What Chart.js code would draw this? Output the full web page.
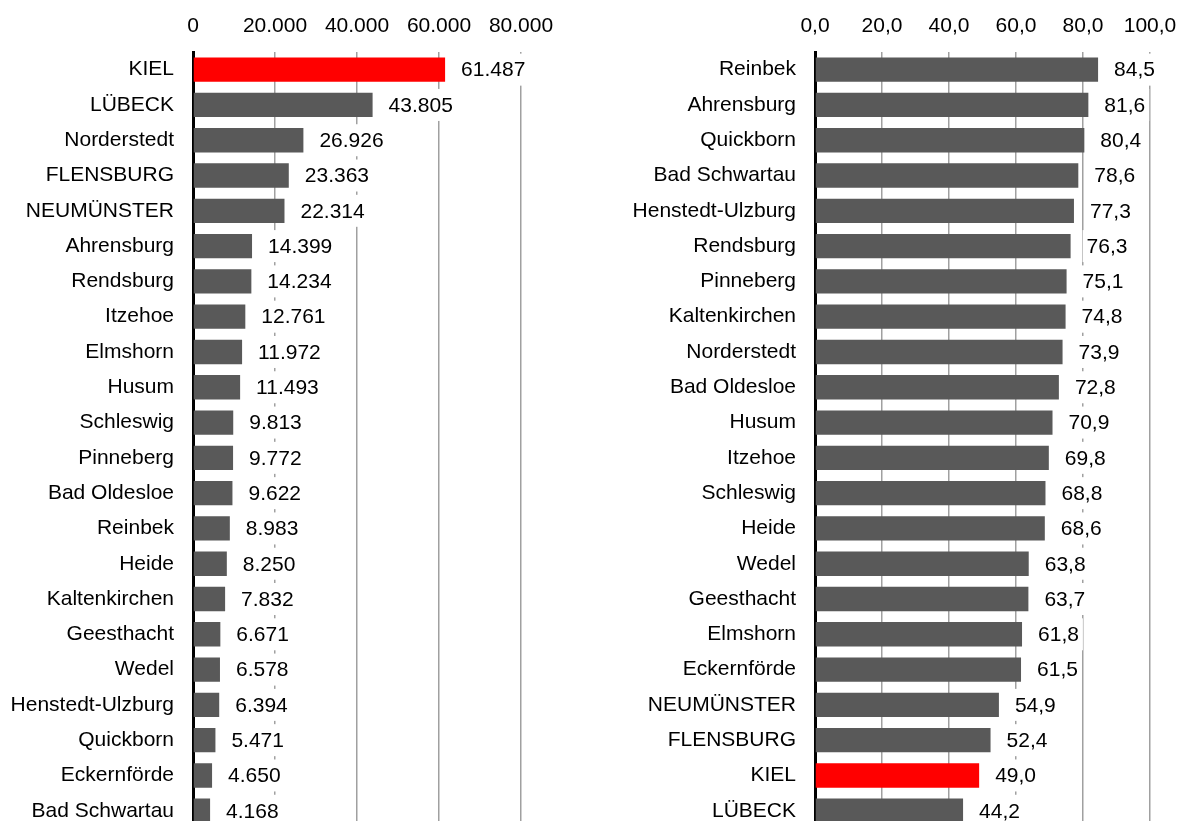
<!DOCTYPE html>
<html>
<head>
<meta charset="utf-8">
<script src="https://cdn.jsdelivr.net/npm/chart.js@4"></script>
<style>
  html, body { margin: 0; padding: 0; background: #fff; overflow: hidden; }
  canvas { position: absolute; top: 0; }
  #leftChart { left: 0; }
  #rightChart { left: 600px; }
</style>
</head>
<body>
<canvas id="leftChart" width="600" height="860"></canvas>
<canvas id="rightChart" width="580" height="860"></canvas>
<script>
const leftCities = ["KIEL", "LÜBECK", "Norderstedt", "FLENSBURG", "NEUMÜNSTER", "Ahrensburg", "Rendsburg", "Itzehoe", "Elmshorn", "Husum", "Schleswig", "Pinneberg", "Bad Oldesloe", "Reinbek", "Heide", "Kaltenkirchen", "Geesthacht", "Wedel", "Henstedt-Ulzburg", "Quickborn", "Eckernförde", "Bad Schwartau"];
const leftValues = [61487, 43805, 26926, 23363, 22314, 14399, 14234, 12761, 11972, 11493, 9813, 9772, 9622, 8983, 8250, 7832, 6671, 6578, 6394, 5471, 4650, 4168];

const rightCities = ["Reinbek", "Ahrensburg", "Quickborn", "Bad Schwartau", "Henstedt-Ulzburg", "Rendsburg", "Pinneberg", "Kaltenkirchen", "Norderstedt", "Bad Oldesloe", "Husum", "Itzehoe", "Schleswig", "Heide", "Wedel", "Geesthacht", "Elmshorn", "Eckernförde", "NEUMÜNSTER", "FLENSBURG", "KIEL", "LÜBECK"];
const rightValues = [84.5, 81.6, 80.4, 78.6, 77.3, 76.3, 75.1, 74.8, 73.9, 72.8, 70.9, 69.8, 68.8, 68.6, 63.8, 63.7, 61.8, 61.5, 54.9, 52.4, 49.0, 44.2];

const leftTicks = [0, 20000, 40000, 60000, 80000];
const rightTicks = [0, 20, 40, 60, 80, 100];

const FONT = '"Liberation Sans", Arial, sans-serif';
const GRAY = "#595959";
const RED = "#ff0000";

function fmtThousands(n) {
  return String(Math.round(n)).replace(/\B(?=(\d{3})+(?!\d))/g, ".");
}
function fmtDecimal(n) {
  return n.toFixed(1).replace(".", ",");
}

// value labels right of the bars, white box behind them
function makeLabels(format) {
  return {
    id: "valueLabels",
    afterDatasetsDraw(chart) {
      const ctx = chart.ctx;
      const meta = chart.getDatasetMeta(0);
      const data = chart.data.datasets[0].data;
      ctx.save();
      ctx.font = "21px " + FONT;
      ctx.textBaseline = "middle";
      ctx.textAlign = "left";
      meta.data.forEach(function (bar, i) {
        const text = format(data[i]);
        const w = ctx.measureText(text).width;
        const x = bar.x + 16;
        ctx.fillStyle = "#fff";
        ctx.fillRect(x - 4, bar.y - 16, w + 8, 32);
        ctx.fillStyle = "#000";
        ctx.fillText(text, x, bar.y + 1);
      });
      ctx.restore();
    },
  };
}

function makeChart(id, cities, values, ticks, format, axisLeft, padRight) {
  const ctx = document.getElementById(id).getContext("2d");
  return new Chart(ctx, {
    type: "bar",
    data: {
      labels: cities,
      datasets: [
        {
          data: values,
          backgroundColor: cities.map((c) => (c === "KIEL" ? RED : GRAY)),
          borderWidth: 0,
          categoryPercentage: 1,
          barPercentage: 0.69,
        },
      ],
    },
    options: {
      indexAxis: "y",
      responsive: false,
      animation: false,
      devicePixelRatio: 1,
      layout: { padding: { left: 0, right: padRight, top: 0, bottom: 2 } },
      plugins: { legend: { display: false }, tooltip: { enabled: false } },
      scales: {
        x: {
          position: "top",
          min: ticks[0],
          max: ticks[ticks.length - 1],
          afterBuildTicks(scale) {
            scale.ticks = ticks.map((v) => ({ value: v }));
          },
          afterFit(scale) {
            scale.height = 52;
            scale.paddingLeft = 0;
            scale.paddingRight = 0;
          },
          ticks: {
            padding: 13,
            color: "#000",
            font: { family: FONT, size: 21 },
            maxRotation: 0,
            autoSkip: false,
            callback: (v) => format(v),
          },
          grid: { color: "#a0a0a0", lineWidth: 1.5, drawTicks: false },
          border: { display: false },
        },
        y: {
          z: 1,
          afterFit(scale) {
            scale.width = axisLeft;
          },
          ticks: {
            padding: 19,
            color: "#000",
            font: { family: FONT, size: 21 },
            autoSkip: false,
          },
          grid: { display: false, drawTicks: false },
          border: { display: true, color: "#000", width: 3 },
        },
      },
    },
    plugins: [makeLabels(format)],
  });
}

makeChart("leftChart", leftCities, leftValues, leftTicks, fmtThousands, 193, 79);
makeChart("rightChart", rightCities, rightValues, rightTicks, fmtDecimal, 215, 30);
</script>
</body>
</html>
